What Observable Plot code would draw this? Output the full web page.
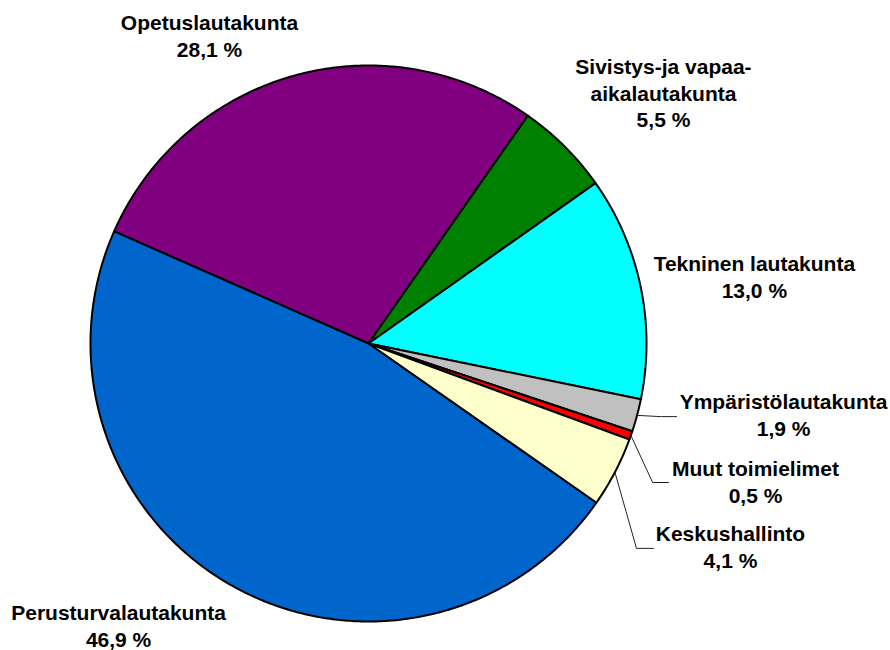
<!DOCTYPE html>
<html><head><meta charset="utf-8">
<script src="https://cdn.jsdelivr.net/npm/d3@7"></script>
<script src="https://cdn.jsdelivr.net/npm/@observablehq/plot@0.6"></script>
<style>body{margin:0;background:#fff;} #chart svg{display:block;}</style>
</head><body><div id="chart"></div>
<script>
// ---- data ----
const names = ["Opetuslautakunta", "Sivistys-ja vapaa-\naikalautakunta", "Tekninen lautakunta", "Ympäristölautakunta", "Muut toimielimet", "Keskushallinto", "Perusturvalautakunta"];
const values = [28.1, 5.5, 13.0, 1.9, 0.5, 4.1, 46.9];
const colors = ["#800080", "#008000", "#00FFFF", "#C0C0C0", "#FF0000", "#FFFFCC", "#0066CC"];

// ---- layout (pie radius units, center = 0,0) ----
const startDeg = -66.2;
const labelX = [-0.572, 1.061, 1.388, 1.493, 1.392, 1.302, -0.899];
const labelY = [1.032, 0.777, 0.165, -0.331, -0.572, -0.806, -1.090];
const leaderIdx = [3, 4, 5];
const elbowX = [1.050, 1.022, 0.964];
const elbowY = [-0.263, -0.500, -0.737];
const endX = [1.108, 1.079, 1.025];

const fmt = v => v.toFixed(1).replace(".", ",") + " %";

const a0 = startDeg * Math.PI / 180;
const arcs = d3.pie().sort(null).value(d => d).startAngle(a0).endAngle(a0 + 2 * Math.PI)(values);

const polys = [];
arcs.forEach((a, i) => {
  polys.push({i, x: 0, y: 0});
  const n = Math.max(2, Math.ceil((a.endAngle - a.startAngle) / (Math.PI / 360)));
  for (let k = 0; k <= n; k++) {
    const t = a.startAngle + (a.endAngle - a.startAngle) * k / n;
    polys.push({i, x: Math.sin(t), y: Math.cos(t)});
  }
  polys.push({i, x: 0, y: 0});
});

const leaders = [];
leaderIdx.forEach((i, j) => {
  const m = (arcs[i].startAngle + arcs[i].endAngle) / 2;
  leaders.push({j, x: Math.sin(m), y: Math.cos(m)});
  leaders.push({j, x: elbowX[j], y: elbowY[j]});
  leaders.push({j, x: endX[j], y: elbowY[j]});
});

const labels = names.map((nm, i) => ({text: nm + "\n" + fmt(values[i]), x: labelX[i], y: labelY[i]}));

const chart = Plot.plot({
  width: 890,
  height: 650,
  margin: 0,
  x: {domain: [-1, 1], range: [90, 646], axis: null},
  y: {domain: [-1, 1], range: [621, 65], axis: null},
  style: {background: "white"},
  marks: [
    Plot.line(polys, {x: "x", y: "y", z: "i", fill: d => colors[d.i], stroke: "black", strokeWidth: 2, strokeLinejoin: "round", curve: "linear"}),
    Plot.line(leaders, {x: "x", y: "y", z: "j", stroke: "#222", strokeWidth: 1, curve: "linear"}),
    Plot.text(labels, {x: "x", y: "y", text: "text", lineAnchor: "bottom", textAnchor: "middle", lineHeight: 1.28, fontSize: 21, fontWeight: "bold", fontFamily: "Liberation Sans, Arial, sans-serif", fill: "black"})
  ]
});
document.getElementById("chart").appendChild(chart);
</script>
</body></html>
